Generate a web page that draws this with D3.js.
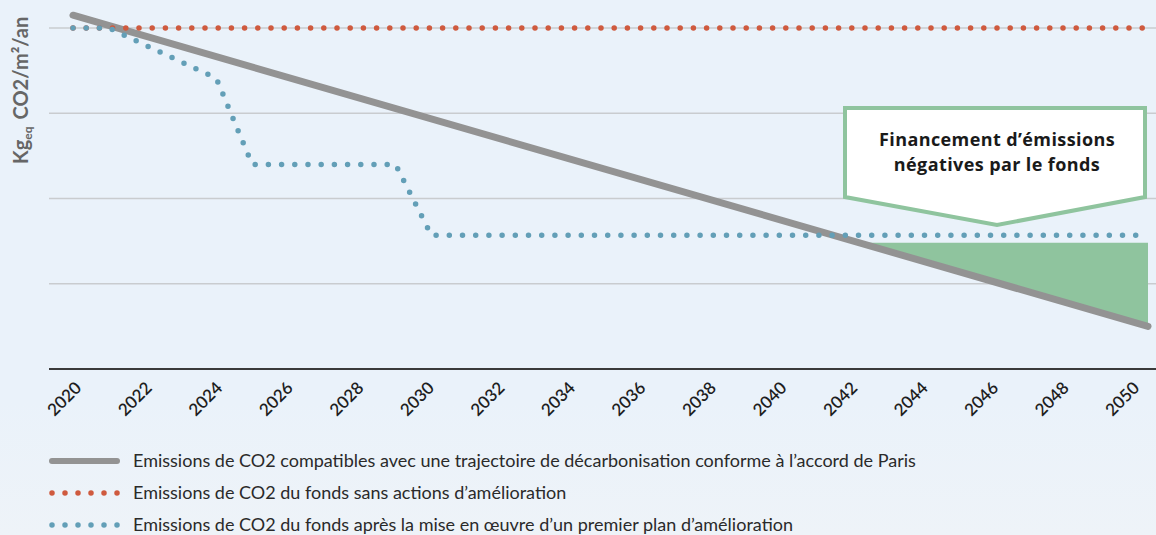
<!DOCTYPE html>
<html>
<head>
<meta charset="utf-8">
<title>Trajectoire CO2</title>
<style>
  body { margin: 0; background: #eaf2fa; }
  svg { display: block; font-family: Lato, "Open Sans", sans-serif; }
</style>
</head>
<body>
<script src="https://d3js.org/d3.v7.min.js"></script>
<script>
// values (kg CO2eq / m2 / an, arbitrary units)
const years = d3.range(2020, 2051, 2);
const parisYears = [2020, 2050];
const parisValues = [4.15, 0.5];
const baseYears = [2020, 2050];
const baseValues = [4, 4];
const planYears = [2020, 2021, 2024, 2025, 2029, 2030, 2050];
const planValues = [4, 4, 3.41, 2.4, 2.4, 1.57, 1.57];
const gridValues = [1, 2, 3, 4];
const fillTop = 1.48;
const calloutLines = ["Financement d\u2019émissions", "négatives par le fonds"];
const legendLabels = [
  "Emissions de CO2 compatibles avec une trajectoire de décarbonisation conforme à l\u2019accord de Paris",
  "Emissions de CO2 du fonds sans actions d\u2019amélioration",
  "Emissions de CO2 du fonds après la mise en \u0153uvre d\u2019un premier plan d\u2019amélioration"
];

const W = 1156, H = 535;
const grey = "#939393", red = "#cf5a3e", blue = "#639fb7", green = "#8fc49e";

const svg = d3.select("body").append("svg").attr("width", W).attr("height", H);

// soft background fade towards bottom
const defs = svg.append("defs");
const bg = defs.append("linearGradient").attr("id", "bg").attr("x1", 0).attr("y1", 0).attr("x2", 0).attr("y2", 1);
bg.append("stop").attr("offset", "0.75").attr("stop-color", "#eaf2fa");
bg.append("stop").attr("offset", "1").attr("stop-color", "#eef3f8");
svg.append("rect").attr("width", W).attr("height", H).attr("fill", "url(#bg)");

const x = d3.scaleLinear().domain([2020, 2050]).range([73, 1148]);
// tick labels sit on a slightly tighter spacing than the data
const xLab = d3.scaleLinear().domain([2020, 2050]).range([82, 1140]);
const y = d3.scaleLinear().domain([0, 4]).range([369, 28]);

// grid
svg.append("g").selectAll("line").data(gridValues).join("line")
  .attr("x1", 49).attr("x2", W)
  .attr("y1", d => y(d)).attr("y2", d => y(d))
  .attr("stroke", "#c9cccf").attr("stroke-width", 1.5);

// x axis
svg.append("line").attr("x1", 49).attr("x2", W).attr("y1", y(0)).attr("y2", y(0))
  .attr("stroke", "#3a3a3a").attr("stroke-width", 2);
const xAxis = svg.append("g").attr("transform", `translate(0,${y(0)})`)
  .call(d3.axisBottom(xLab).tickValues(years).tickFormat(d3.format("d")).tickSize(0));
xAxis.select(".domain").remove();
xAxis.selectAll(".tick text")
  .attr("font-size", 17).attr("font-weight", 600).attr("fill", "#1e1e1e")
  .attr("font-family", "Lato, sans-serif")
  .attr("text-anchor", "end")
  .attr("dy", 0).attr("y", 0)
  .attr("transform", "translate(0,20) rotate(-45)");

// y label
const yl = svg.append("text")
  .attr("transform", "translate(28,164) rotate(-90)")
  .attr("font-size", 20).attr("font-weight", 700).attr("fill", "#666");
yl.append("tspan").text("Kg");
yl.append("tspan").attr("font-size", 12).attr("dy", 4).text("eq");
yl.append("tspan").attr("dy", -4).attr("dx", 7).text("CO2/m\u00b2/an");

// green area between fund level and Paris trajectory
const parisAt = d3.scaleLinear().domain(parisYears).range(parisValues);
const crossYear = parisAt.invert(fillTop);
const areaYears = [crossYear, 2050];
svg.append("path")
  .datum(areaYears)
  .attr("fill", green)
  .attr("d", d3.area().x(d => x(d)).y0(() => y(fillTop)).y1(d => y(parisAt(d))));

// series
const line = d3.line().x(d => x(d[0])).y(d => y(d[1]));
svg.append("path").datum(d3.zip(parisYears, parisValues))
  .attr("d", line).attr("fill", "none")
  .attr("stroke", grey).attr("stroke-width", 7).attr("stroke-linecap", "round");
svg.append("path").datum(d3.zip(baseYears, baseValues))
  .attr("d", d3.line().x(d => x(d[0]) + (d[0] === 2050 ? 7 : 0)).y(d => y(d[1])))
  .attr("fill", "none")
  .attr("stroke", red).attr("stroke-width", 5.5).attr("stroke-linecap", "round")
  .attr("stroke-dasharray", "0 13.2");
svg.append("path").datum(d3.zip(planYears, planValues))
  .attr("d", line).attr("fill", "none")
  .attr("stroke", blue).attr("stroke-width", 5.5).attr("stroke-linecap", "round")
  .attr("stroke-dasharray", "0 13.2");

// callout
const cx = 997;
const box = { l: 845, r: 1145, t: 108, b: 197, tip: 225 };
svg.append("path")
  .attr("d", `M${box.l},${box.t}H${box.r}V${box.b}L${cx},${box.tip}L${box.l},${box.b}Z`)
  .attr("fill", "#fff").attr("stroke", green).attr("stroke-width", 4);
svg.append("g").selectAll("text").data(calloutLines).join("text")
  .attr("x", cx).attr("y", (d, i) => 146 + i * 25)
  .attr("text-anchor", "middle")
  .attr("font-family", "'Open Sans', sans-serif")
  .attr("font-size", 18).attr("font-weight", 700).attr("fill", "#1a1a1a")
  .attr("letter-spacing", 0.4)
  .text(d => d);

// legend
const lg = svg.append("g");
const rowsY = [461, 493, 525];
lg.append("line").attr("x1", 52).attr("x2", 117).attr("y1", rowsY[0]).attr("y2", rowsY[0])
  .attr("stroke", grey).attr("stroke-width", 6).attr("stroke-linecap", "round");
[red, blue].forEach((c, i) => {
  lg.append("line").attr("x1", 52).attr("x2", 118).attr("y1", rowsY[i + 1]).attr("y2", rowsY[i + 1])
    .attr("stroke", c).attr("stroke-width", 5.5).attr("stroke-linecap", "round")
    .attr("stroke-dasharray", "0 13");
});
lg.selectAll("text").data(legendLabels).join("text")
  .attr("x", 133).attr("y", (d, i) => rowsY[i] + 6)
  .attr("font-size", 18).attr("fill", "#2a2a2a")
  .text(d => d);
</script>
</body>
</html>
